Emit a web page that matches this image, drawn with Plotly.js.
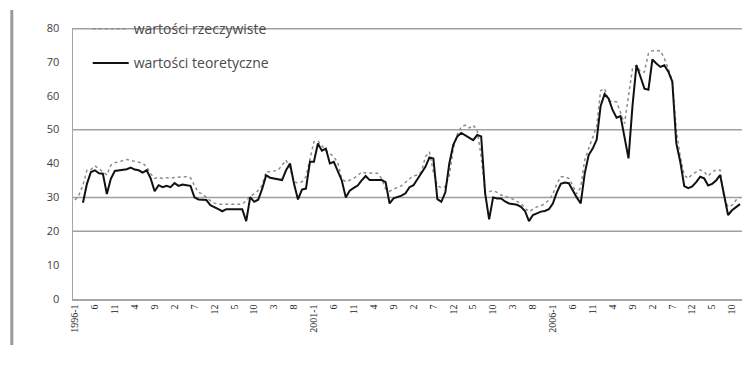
<!DOCTYPE html>
<html>
<head>
<meta charset="utf-8">
<script src="https://cdn.plot.ly/plotly-3.0.1.min.js"></script>
<style>html,body{margin:0;padding:0;background:#fff;}#chart{width:752px;height:380px;}</style>
</head>
<body>
<div id="chart"></div>
<script>
// Monthly observations, 1996-1 .. 2009-12 (168 months)
const seriesNames = ["wartości rzeczywiste", "wartości teoretyczne"];

const actual = [
  29.2, 30.7, 33.6, 38.0, 38.2, 39.3, 38.5, 37.5, 36.6, 39.5,
  40.2, 40.5, 40.8, 41.2, 40.9, 40.7, 40.5, 40.1, 39.0, 37.0,
  35.6, 35.9, 35.6, 35.8, 35.7, 35.9, 36.1, 36.1, 36.1, 35.8,
  33.5, 31.5, 31.0, 30.0, 29.0, 28.3, 28.0, 28.0, 28.0, 28.0,
  28.0, 28.0, 28.0, 29.0, 30.4, 31.0, 32.0, 33.5, 37.6, 37.6,
  37.8, 38.0, 39.5, 41.0, 38.5, 34.5, 34.3, 34.6, 36.1, 41.5,
  46.4, 46.7, 45.2, 43.8, 43.0, 42.0, 40.2, 35.5, 34.6, 35.1,
  35.6, 36.5, 37.5, 37.2, 37.1, 37.1, 37.1, 35.5, 32.5, 31.8,
  32.5, 33.0, 33.4, 34.5, 35.5, 36.3, 36.6, 37.5, 42.0, 43.4,
  37.5, 33.5, 32.8, 33.2, 36.5, 44.4, 48.6, 50.8, 51.3, 50.5,
  51.3, 49.8, 42.0, 31.7, 31.7, 32.0, 31.5, 30.7, 30.3, 30.0,
  29.5, 28.8, 28.2, 26.8, 25.8, 26.5, 27.2, 27.5, 28.2, 29.2,
  31.0, 34.0, 36.1, 36.1, 35.6, 33.5, 31.0, 33.0, 41.0, 44.4,
  47.4, 51.0, 61.5, 62.1, 58.5, 58.2, 58.2, 54.8, 51.8, 60.0,
  68.0, 69.0, 67.1, 67.0, 72.5, 73.3, 73.3, 73.3, 71.0, 68.0,
  64.2, 50.0, 42.0, 36.5, 35.6, 36.8, 37.5, 38.1, 37.5, 36.3,
  37.5, 38.1, 38.1, 30.0, 27.2, 27.7, 29.2, 29.7
];

const fitted = [
  null, null, 28.4, 34.0, 37.5, 38.0, 37.1, 37.0, 31.0, 35.5,
  37.8, 38.0, 38.1, 38.3, 38.8, 38.2, 38.0, 37.3, 38.0, 35.6,
  31.8, 33.6, 33.0, 33.4, 33.0, 34.2, 33.4, 33.8, 33.6, 33.4,
  30.0, 29.4, 29.3, 29.2, 27.7, 27.0, 26.5, 25.9, 26.5, 26.5,
  26.5, 26.5, 26.5, 23.0, 30.1, 28.7, 29.3, 32.5, 36.5, 35.8,
  35.5, 35.3, 35.1, 38.0, 40.0, 34.0, 29.4, 32.3, 32.6, 40.5,
  40.5, 45.9, 43.8, 44.4, 40.0, 40.5, 38.0, 35.0, 30.0, 32.0,
  32.8, 33.5, 35.0, 36.3, 35.1, 35.1, 35.1, 35.1, 34.5, 28.2,
  29.7, 30.0, 30.5, 31.2, 33.0, 33.6, 35.5, 37.0, 39.0, 41.8,
  41.5, 29.5, 28.7, 31.5, 40.0, 45.5, 48.0, 49.0, 48.3, 47.5,
  46.9, 48.4, 48.0, 31.2, 23.5, 30.0, 29.7, 29.7, 28.8, 28.2,
  28.0, 27.8, 27.2, 26.0, 23.0, 24.8, 25.3, 25.8, 26.0, 26.5,
  28.2, 31.5, 34.0, 34.4, 34.2, 32.0, 30.0, 28.2, 37.0, 42.5,
  44.4, 47.0, 57.0, 60.5, 59.2, 55.8, 53.5, 54.0, 48.0, 41.5,
  57.0, 69.0, 65.6, 62.1, 61.8, 70.7, 69.5, 68.5, 69.0, 67.1,
  64.2, 46.0, 40.5, 33.3, 32.7, 33.2, 34.5, 36.1, 35.6, 33.5,
  34.0, 35.0, 36.6, 31.0, 24.8, 26.2, 27.0, 28.0
];

// Category axis labels (every 5th month is labelled)
const tickLabels = ["1996-1","6","11","4","9","2","7","12","5","10","3","8",
  "2001-1","6","11","4","9","2","7","12","5","10","3","8",
  "2006-1","6","11","4","9","2","7","12","5","10"];
const tickStep = 5;
const gridValues = [20, 30, 50, 80];
const yTicks = [0, 10, 20, 30, 40, 50, 60, 70, 80];
const yMax = 80;

const xIdx = actual.map((_, i) => i);
const tickvals = tickLabels.map((_, k) => k * tickStep);

const traces = [
  {
    x: xIdx, y: actual, name: seriesNames[0], type: 'scatter', mode: 'lines',
    line: {color: '#8c8c8c', width: 1.5, dash: 'dot'},
    legendgroup: 'a', connectgaps: false
  },
  {
    x: xIdx, y: fitted, name: seriesNames[1], type: 'scatter', mode: 'lines',
    line: {color: '#111111', width: 2},
    legendgroup: 'b', connectgaps: false
  }
];

const shapes = gridValues.map(v => ({
  type: 'line', xref: 'paper', yref: 'y', x0: 0, x1: 1,
  y0: v === yMax ? v - 0.25 : v, y1: v === yMax ? v - 0.25 : v,
  line: {color: '#a0a0a0', width: 1.5}, layer: v === yMax ? 'above' : 'below'
}));
// page border bar on the left
shapes.push({type: 'line', xref: 'paper', yref: 'paper', x0: -0.0915, x1: -0.0915,
  y0: 1.066, y1: -0.17, line: {color: '#9a9a9a', width: 3}});

const layout = {
  width: 752, height: 380,
  margin: {l: 73, r: 10, t: 28, b: 81},
  paper_bgcolor: '#ffffff', plot_bgcolor: '#ffffff',
  showlegend: true,
  legend: {
    x: 0.022, y: 1.055, xanchor: 'left', yanchor: 'top',
    bgcolor: 'rgba(0,0,0,0)', tracegroupgap: 13, itemwidth: 36,
    font: {family: 'Open Sans, Liberation Sans, sans-serif', size: 14, color: '#4a4a4a'}
  },
  xaxis: {
    range: [-0.5, actual.length - 0.5],
    tickmode: 'array', tickvals: tickvals, ticktext: tickLabels,
    tickangle: -90, ticks: '', showgrid: false, zeroline: false,
    showline: true, linecolor: '#a6a6a6', linewidth: 1.5,
    tickfont: {family: 'Liberation Serif, Times New Roman, serif', size: 10, color: '#222'}
  },
  yaxis: {
    range: [0, yMax], tickmode: 'array', tickvals: yTicks,
    showgrid: false, zeroline: false, ticks: '',
    showline: true, linecolor: '#a6a6a6', linewidth: 1.5,
    ticklabelstandoff: 10,
    tickfont: {family: 'Open Sans, Liberation Sans, sans-serif', size: 11, color: '#404040'}
  },
  shapes: shapes
};

Plotly.newPlot('chart', traces, layout, {displayModeBar: false, staticPlot: true});
</script>
</body>
</html>
